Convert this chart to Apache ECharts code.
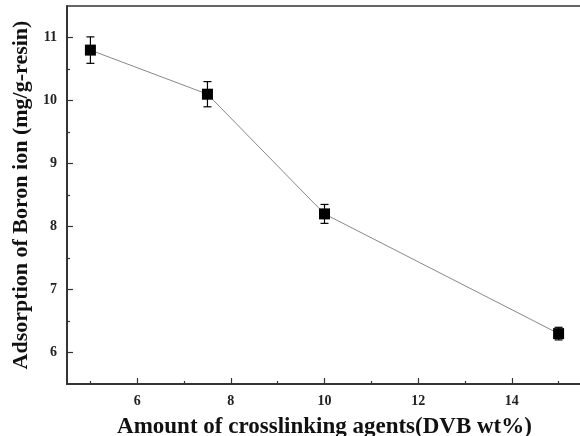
<!DOCTYPE html>
<html>
<head>
<meta charset="utf-8">
<script src="https://cdn.jsdelivr.net/npm/echarts@6/dist/echarts.min.js"></script>
<style>
html,body{margin:0;padding:0;background:#fff;}
#main{width:580px;height:436px;}
</style>
</head>
<body>
<div id="main"></div>
<script>
// 数据
var dvb = [5, 7.5, 10, 15];
var adsorption = [10.8, 10.1, 8.2, 6.3];
var errs = [0.21, 0.2, 0.15, 0.1];

// 刻度
var xLabels = [6, 8, 10, 12, 14];
var xMinor = [5, 7, 9, 11, 13, 15];
var yLabels = [6, 7, 8, 9, 10, 11];
var yMinor = [6.5, 7.5, 8.5, 9.5, 10.5];

var chart = echarts.init(document.getElementById('main'));

var font = 'Liberation Serif, Times New Roman, serif';
var axisColor = '#333';

var points = [];
var bars = [];
for (var i = 0; i < dvb.length; i++) {
    points.push([dvb[i], adsorption[i]]);
    bars.push([dvb[i], adsorption[i] - errs[i], adsorption[i] + errs[i]]);
}

function baseX(extra) {
    return Object.assign({
        type: 'value',
        min: 4.5,
        max: 15.5,
        axisLine: {show: true, onZero: false, lineStyle: {color: axisColor, width: 1.5}},
        splitLine: {show: false}
    }, extra);
}
function baseY(extra) {
    return Object.assign({
        type: 'value',
        min: 5.5,
        max: 11.5,
        axisLine: {show: true, onZero: false, lineStyle: {color: axisColor, width: 1.5}},
        splitLine: {show: false}
    }, extra);
}

var option = {
    backgroundColor: '#fff',
    animation: false,
    grid: {
        left: 67,
        width: 515,
        top: 6,
        bottom: 52,
        outerBoundsMode: 'none',
        containLabel: false,
        show: true,
        borderColor: axisColor,
        borderWidth: 1.5
    },
    xAxis: [
        baseX({
            name: 'Amount of crosslinking agents(DVB wt%)',
            nameLocation: 'middle',
            nameGap: 32,
            nameTextStyle: {fontFamily: font, fontWeight: 'bold', fontSize: 23, color: '#111'},
            axisTick: {show: true, inside: true, length: 6, customValues: xLabels, lineStyle: {color: axisColor, width: 1.2}},
            axisLabel: {customValues: xLabels, margin: 10, fontFamily: font, fontWeight: 'bold', fontSize: 14, color: '#222'}
        }),
        baseX({
            position: 'bottom',
            axisTick: {show: true, inside: true, length: 3, customValues: xMinor, lineStyle: {color: axisColor, width: 1.2}},
            axisLabel: {show: false}
        })
    ],
    yAxis: [
        baseY({
            name: 'Adsorption of Boron ion (mg/g-resin)',
            nameLocation: 'middle',
            nameGap: 33,
            nameTextStyle: {fontFamily: font, fontWeight: 'bold', fontSize: 22, color: '#111'},
            axisTick: {show: true, inside: true, length: 6, customValues: yLabels, lineStyle: {color: axisColor, width: 1.2}},
            axisLabel: {customValues: yLabels, margin: 10, fontFamily: font, fontWeight: 'bold', fontSize: 14, color: '#222'}
        }),
        baseY({
            position: 'left',
            axisTick: {show: true, inside: true, length: 3, customValues: yMinor, lineStyle: {color: axisColor, width: 1.2}},
            axisLabel: {show: false}
        })
    ],
    series: [
        {
            type: 'line',
            data: points,
            symbol: 'rect',
            symbolSize: 11,
            lineStyle: {color: '#888', width: 1},
            itemStyle: {color: '#000'},
            z: 3
        },
        {
            // 误差棒
            type: 'custom',
            data: bars,
            z: 4,
            renderItem: function (params, api) {
                var x = api.value(0);
                var lo = api.coord([x, api.value(1)]);
                var hi = api.coord([x, api.value(2)]);
                var cap = 4;
                var style = {stroke: '#000', lineWidth: 1.2};
                return {
                    type: 'group',
                    children: [
                        {type: 'line', shape: {x1: lo[0], y1: lo[1], x2: hi[0], y2: hi[1]}, style: style},
                        {type: 'line', shape: {x1: lo[0] - cap, y1: lo[1], x2: lo[0] + cap, y2: lo[1]}, style: style},
                        {type: 'line', shape: {x1: hi[0] - cap, y1: hi[1], x2: hi[0] + cap, y2: hi[1]}, style: style}
                    ]
                };
            }
        }
    ]
};

chart.setOption(option);

window.onresize = function () {
    chart.resize();
};
</script>
</body>
</html>
